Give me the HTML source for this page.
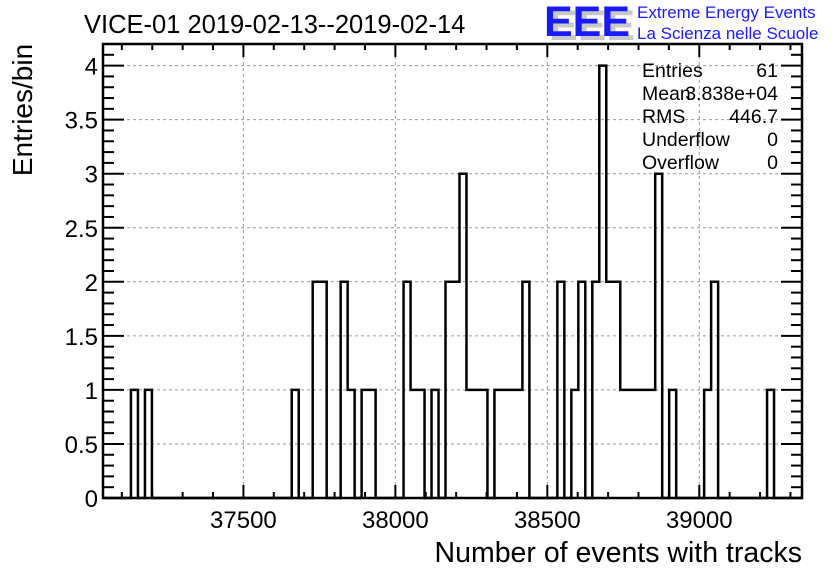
<!DOCTYPE html>
<html><head><meta charset="utf-8"><style>
html,body{margin:0;padding:0;background:#fff;}
svg{display:block;font-family:"Liberation Sans",Arial,sans-serif;}
</style></head><body>
<svg id="chart" width="836" height="572" viewBox="0 0 836 572">
<rect x="0" y="0" width="836" height="572" fill="#fff"/>
<g id="grid"></g>
<g id="hist"></g>
<g id="axes"></g>
<text x="84" y="33" font-size="25.5" fill="#000">VICE-01 2019-02-13--2019-02-14</text>
<text transform="translate(32,110) rotate(-90)" text-anchor="middle" font-size="28" fill="#000">Entries/bin</text>
<text x="802" y="562" text-anchor="end" font-size="28.5" fill="#000">Number of events with tracks</text>
<g>
<text x="549" y="40" font-size="43" font-weight="bold" fill="#c8c8c8">EEE</text>
<text x="544" y="36" font-size="43" font-weight="bold" fill="#1a1aff">EEE</text>
<text x="637" y="18" font-size="17" fill="#1a1aff">Extreme Energy Events</text>
<text x="637" y="39" font-size="17" fill="#1a1aff">La Scienza nelle Scuole</text>
</g>
<g font-size="19.5" fill="#000">
<text x="642" y="77">Entries</text><text x="778" y="77" text-anchor="end">61</text>
<text x="642" y="100">Mean</text><text x="778" y="100" text-anchor="end">3.838e+04</text>
<text x="642" y="123">RMS</text><text x="778" y="123" text-anchor="end">446.7</text>
<text x="642" y="146">Underflow</text><text x="778" y="146" text-anchor="end">0</text>
<text x="642" y="169">Overflow</text><text x="778" y="169" text-anchor="end">0</text>
</g>
</svg>
<script>
const xMin = 37038;
const xMax = 39338;
const nBins = 100;
const binIndices = [4,6,27,30,31,34,35,37,38,43,44,45,47,49,50,51,52,53,54,56,57,58,59,60,65,67,68,70,71,72,73,74,75,76,77,78,79,81,86,87,95];
const binCounts  = [1,1,1,2,2,2,1,1,1,2,1,1,1,2,2,3,1,1,1,1,1,1,1,2,2,1,2,2,4,2,2,1,1,1,1,1,3,1,1,2,1];
const xTickValues = [37500,38000,38500,39000];
const xTickLabels = ["37500","38000","38500","39000"];
const yTickValues = [0,0.5,1,1.5,2,2.5,3,3.5,4];
const yTickLabels = ["0","0.5","1","1.5","2","2.5","3","3.5","4"];
const yMax = 4.2;

const L=103,R=802,T=44,B=498;
const NS="http://www.w3.org/2000/svg";
function sx(v){return L+(v-xMin)/(xMax-xMin)*(R-L);}
function sy(v){return B-v/yMax*(B-T);}
function mk(tag,attrs,parent){const e=document.createElementNS(NS,tag);for(const k in attrs)e.setAttribute(k,attrs[k]);parent.appendChild(e);return e;}
const grid=document.getElementById('grid'),hist=document.getElementById('hist'),axes=document.getElementById('axes');

xTickValues.forEach(v=>{const l=mk('line',{x1:sx(v),x2:sx(v),y1:T,y2:B,stroke:'#999','stroke-dasharray':'3,3','stroke-width':1},grid);

});
yTickValues.forEach(v=>{if(v===0)return;const l=mk('line',{x1:L,x2:R,y1:sy(v),y2:sy(v),stroke:'#999','stroke-dasharray':'3,3','stroke-width':1},grid);

});

const counts=new Array(nBins).fill(0);
binIndices.forEach((b,i)=>{counts[b]=binCounts[i];});
const bw=(xMax-xMin)/nBins;
let d=`M${sx(xMin)},${sy(0)}`;
for(let i=0;i<nBins;i++){const x0=sx(xMin+i*bw),x1=sx(xMin+(i+1)*bw),y=sy(counts[i]);d+=` L${x0},${y} L${x1},${y}`;}
d+=` L${sx(xMax)},${sy(0)}`;
const p=mk('path',{d:d,fill:'none',stroke:'#000','stroke-width':2.5},hist);



const fr=mk('rect',{x:L,y:T,width:R-L,height:B-T,fill:'none',stroke:'#000','stroke-width':2.5},axes);


for(let v=37100;v<=39300;v+=100){const major=v%500===0;const len=major?13:6;
mk('line',{x1:sx(v),x2:sx(v),y1:B,y2:B-len,stroke:'#000','stroke-width':2},axes);
mk('line',{x1:sx(v),x2:sx(v),y1:T,y2:T+len,stroke:'#000','stroke-width':2},axes);}
xTickValues.forEach((v,i)=>{const t=mk('text',{x:sx(v),y:528,'text-anchor':'middle','font-size':24,fill:'#000'},axes);t.textContent=xTickLabels[i];

});
for(let k=0;k<=42;k++){const v=k/10;const major=k%5===0;const len=major?21:11;
mk('line',{x1:L,x2:L+len,y1:sy(v),y2:sy(v),stroke:'#000','stroke-width':2},axes);
mk('line',{x1:R,x2:R-len,y1:sy(v),y2:sy(v),stroke:'#000','stroke-width':2},axes);}
yTickValues.forEach((v,i)=>{const t=mk('text',{x:98,y:sy(v)+9,'text-anchor':'end','font-size':24,fill:'#000'},axes);t.textContent=yTickLabels[i];

});
</script>
</body></html>
